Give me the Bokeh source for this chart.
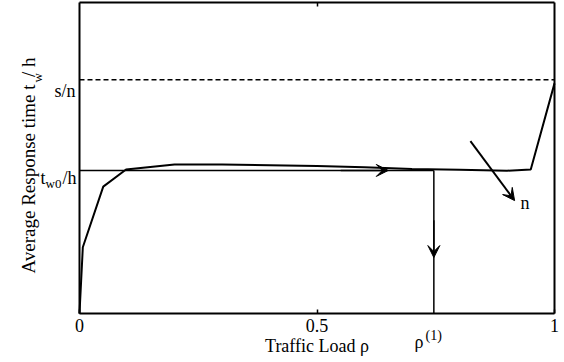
from bokeh.plotting import figure
from bokeh.models import Label, Arrow, VeeHead, LinearAxis, FixedTicker
from bokeh.embed import file_html
from bokeh.resources import INLINE
import math

# Normalised response time curve vs. traffic load
rho = [0.0, 0.007, 0.05, 0.098, 0.2, 0.3, 0.4, 0.5, 0.6, 0.7, 0.8, 0.9, 0.95, 1.0]
resp = [0.0, 0.213, 0.408, 0.463, 0.479, 0.479, 0.477, 0.474, 0.470, 0.465, 0.462, 0.459, 0.463, 0.74]

# Reference levels
s_over_n = 0.752      # s/n
tw0_over_h = 0.46     # t_w0/h
rho1 = 0.746          # rho^(1)

x_ticks = [0, 0.5, 1]
x_tick_labels = ["0", "0.5", "1"]
top_ticks = [0.5]

SERIF = "Liberation Serif"

W, H = 564, 362
BOX_L, BOX_R, BOX_T, BOX_B = 79, 554, 2, 313   # axes box in canvas pixels
sx = BOX_R - BOX_L
sy = BOX_B - BOX_T

# The frame fills the whole canvas; the axes box is drawn with fixed-location axes
p = figure(width=W, height=H,
           x_range=(-BOX_L / sx, 1 + (W - BOX_R) / sx),
           y_range=(-(H - BOX_B) / sy, 1 + BOX_T / sy),
           output_backend="svg", toolbar_location=None,
           x_axis_location=None, y_axis_location=None,
           min_border=0)
p.background_fill_color = "white"
p.border_fill_color = "white"
p.grid.visible = False
p.outline_line_color = None


def box_axis(place, loc, ticks, labels=None, tick_in=4):
    a = LinearAxis(ticker=FixedTicker(ticks=ticks), fixed_location=loc, bounds=(0, 1),
                   major_tick_in=tick_in, major_tick_out=0, major_tick_line_width=1.5,
                   minor_tick_line_color=None, axis_line_width=2, axis_line_color="black",
                   major_label_text_font=SERIF, major_label_text_font_size="18px",
                   major_label_text_color="black", major_label_standoff=5)
    if labels is None:
        a.major_label_overrides = {t: "" for t in ticks}
        a.major_tick_line_color = "black" if ticks else None
    else:
        a.major_label_overrides = {t: l for t, l in zip(ticks, labels)}
    p.add_layout(a, place)
    return a


xa = box_axis("below", 0, x_ticks, x_tick_labels)
xa.axis_label = "Traffic Load \u03c1"
xa.axis_label_text_font = SERIF
xa.axis_label_text_font_size = "18px"
xa.axis_label_text_font_style = "normal"
xa.axis_label_text_color = "black"
xa.axis_label_standoff = 1

box_axis("above", 1, top_ticks)
box_axis("left", 0, [])
box_axis("right", 1, [])

# Reference levels
p.line([0, 1], [s_over_n, s_over_n], line_color="black", line_width=1.5, line_dash="5 3")
p.line([0, rho1], [tw0_over_h, tw0_over_h], line_color="black", line_width=1.5)
p.line([rho1, rho1], [tw0_over_h, 0], line_color="black", line_width=1.5)

# Response time curve
p.line(rho, resp, line_color="black", line_width=2)


# Direction arrows
def head():
    return VeeHead(size=12, fill_color="black", line_color="black", line_width=1)


p.add_layout(Arrow(end=head(), x_start=0.55, y_start=tw0_over_h, x_end=0.65, y_end=tw0_over_h,
                   line_color="black", line_width=1.5))
p.add_layout(Arrow(end=head(), x_start=rho1, y_start=0.3, x_end=rho1, y_end=0.18,
                   line_color="black", line_width=1.5))
p.add_layout(Arrow(end=head(), x_start=0.823, y_start=0.554, x_end=0.916, y_end=0.363,
                   line_color="black", line_width=2))


def lab(text, x, y, size="17px", align="left", angle=0.0):
    # x, y in canvas pixels from the top-left corner
    p.add_layout(Label(x=x, y=y, x_units="canvas", y_units="canvas", text=text,
                       text_font=SERIF, text_font_size=size,
                       text_color="black", text_align=align, text_baseline="alphabetic",
                       angle=angle))


lab("n", 520, 202, size="18px")

# y-level labels
lab("s/n", 75, 90, size="18px", align="right")
lab("t", 40, 177, size="18px")
lab("w0", 45, 183, size="13px")
lab("/h", 62, 177, size="18px")

# rho^(1) tick label
lab("\u03c1", 414, 341, size="18px")
lab("(1)", 425, 335, size="14px")

# y axis title
lab("Average Response time t", 28, 273, size="19px", angle=math.pi / 2)
lab("w", 37, 82, size="13px", angle=math.pi / 2)
lab("/ h", 28, 57, size="19px", angle=math.pi / 2, align="right")

open("out.html", "w").write(file_html(p, INLINE))
